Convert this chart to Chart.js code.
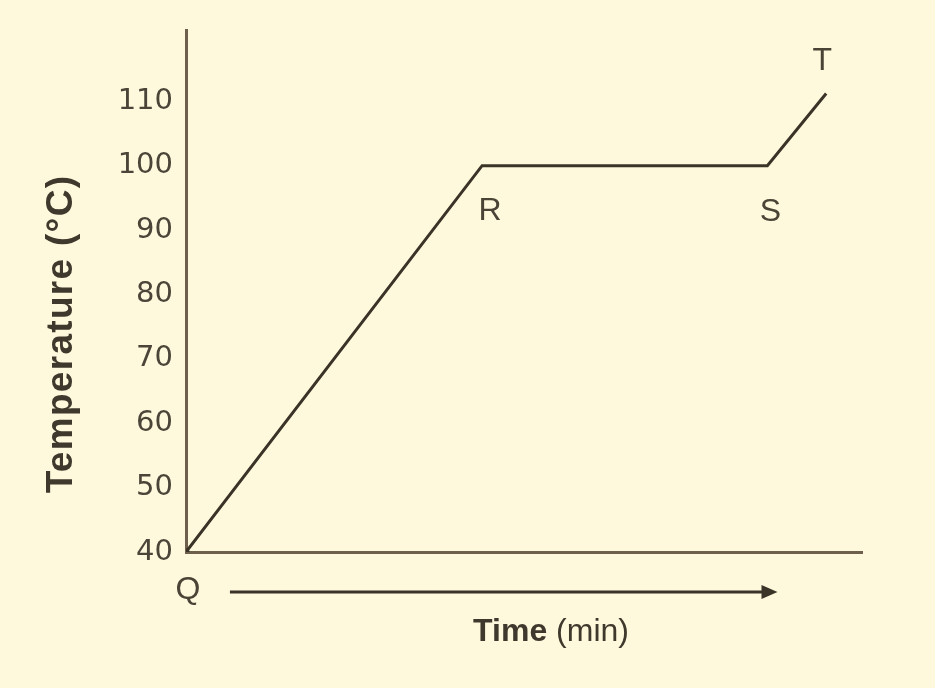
<!DOCTYPE html>
<html>
<head>
<meta charset="utf-8">
<script src="https://cdn.jsdelivr.net/npm/chart.js@4/dist/chart.umd.min.js"></script>
<style>
  html, body { margin: 0; padding: 0; background: #fef9dc; }
  #wrap { width: 935px; height: 688px; position: relative; }
</style>
</head>
<body>
<div id="wrap"><canvas id="c" width="935" height="688"></canvas></div>
<script>
// Data
const pointLabels = ['Q', 'R', 'S', 'T'];
const timeValues = [0, 43.8, 86, 94.7];
const temperatureValues = [40, 100, 100, 111.2];
const yTickValues = [40, 50, 60, 70, 80, 90, 100, 110];
const yTitleBold = 'Temperature';
const yTitleNormal = ' (°C)';
const xTitleBold = 'Time';
const xTitleNormal = ' (min)';

const INK = '#3a3327';
const AXIS = '#6e604c';
const FONT = '"Liberation Sans", Arial, sans-serif';
const TICKFONT = '"DejaVu Sans", sans-serif';

const decor = {
  id: 'decor',
  afterDraw(chart) {
    const ctx = chart.ctx;
    const xs = chart.scales.x, ys = chart.scales.y;
    const pts = timeValues.map((t, i) => ({ x: xs.getPixelForValue(t), y: ys.getPixelForValue(temperatureValues[i]) }));
    ctx.save();
    // point labels
    ctx.fillStyle = '#4a4436';
    ctx.font = '32px ' + FONT;
    ctx.textAlign = 'center';
    ctx.textBaseline = 'middle';
    const offs = [[2, 38], [8, 46], [3, 47], [-4, -32]];
    pts.forEach((p, i) => ctx.fillText(pointLabels[i], p.x + offs[i][0], p.y + offs[i][1]));
    // arrow under the x axis
    const ay = ys.bottom + 40;
    const ax0 = xs.getPixelForValue(6.5), ax1 = xs.getPixelForValue(87.5);
    ctx.strokeStyle = INK; ctx.lineWidth = 3;
    ctx.beginPath(); ctx.moveTo(ax0, ay); ctx.lineTo(ax1 - 12, ay); ctx.stroke();
    ctx.fillStyle = INK;
    ctx.beginPath(); ctx.moveTo(ax1, ay); ctx.lineTo(ax1 - 16, ay - 7); ctx.lineTo(ax1 - 16, ay + 7); ctx.closePath(); ctx.fill();
    // x title
    ctx.textBaseline = 'middle';
    ctx.textAlign = 'left';
    ctx.fillStyle = '#3f392d';
    ctx.font = 'bold 32px ' + FONT;
    const wb = ctx.measureText(xTitleBold).width;
    ctx.font = '32px ' + FONT;
    const wn = ctx.measureText(xTitleNormal).width;
    const cx = 551, cy = ys.bottom + 80;
    let sx = cx - (wb + wn) / 2;
    ctx.font = 'bold 32px ' + FONT; ctx.fillText(xTitleBold, sx, cy);
    ctx.font = '32px ' + FONT; ctx.fillText(xTitleNormal, sx + wb, cy);
    // y title (rotated)
    ctx.translate(62, 334);
    ctx.rotate(-Math.PI / 2);
    ctx.font = 'bold 37px ' + FONT;
    if ('letterSpacing' in ctx) ctx.letterSpacing = '1.3px';
    const vb = ctx.measureText(yTitleBold).width;
    const vn = ctx.measureText(yTitleNormal).width;
    sx = -(vb + vn) / 2;
    ctx.fillText(yTitleBold, sx, 0);
    ctx.fillText(yTitleNormal, sx + vb, 0);
    ctx.restore();
  }
};

new Chart(document.getElementById('c'), {
  type: 'line',
  data: {
    datasets: [{
      data: timeValues.map((t, i) => ({ x: t, y: temperatureValues[i] })),
      borderColor: INK,
      borderWidth: 3,
      tension: 0,
      fill: false,
      pointRadius: [3.5, 0, 0, 0],
      pointBackgroundColor: INK,
      pointBorderWidth: 0
    }]
  },
  options: {
    responsive: false,
    animation: false,
    devicePixelRatio: 1,
    layout: { padding: { top: 28, right: 73, left: 0, bottom: 0 } },
    plugins: { legend: { display: false }, tooltip: { enabled: false } },
    scales: {
      x: {
        type: 'linear', min: 0, max: 100,
        grid: { display: false, drawTicks: false },
        border: { display: true, color: AXIS, width: 3 },
        ticks: { display: false },
        afterFit(s) { s.height = 136; }
      },
      y: {
        type: 'linear', min: 40, max: 121,
        grid: { display: false, drawTicks: false },
        border: { display: true, color: AXIS, width: 3 },
        afterBuildTicks(s) { s.ticks = yTickValues.map(v => ({ value: v })); },
        ticks: {
          color: '#4a4538',
          font: { family: TICKFONT, size: 29 },
          padding: 13
        },
        afterFit(s) { s.width = 186; }
      }
    }
  },
  plugins: [decor]
});
</script>
</body>
</html>
